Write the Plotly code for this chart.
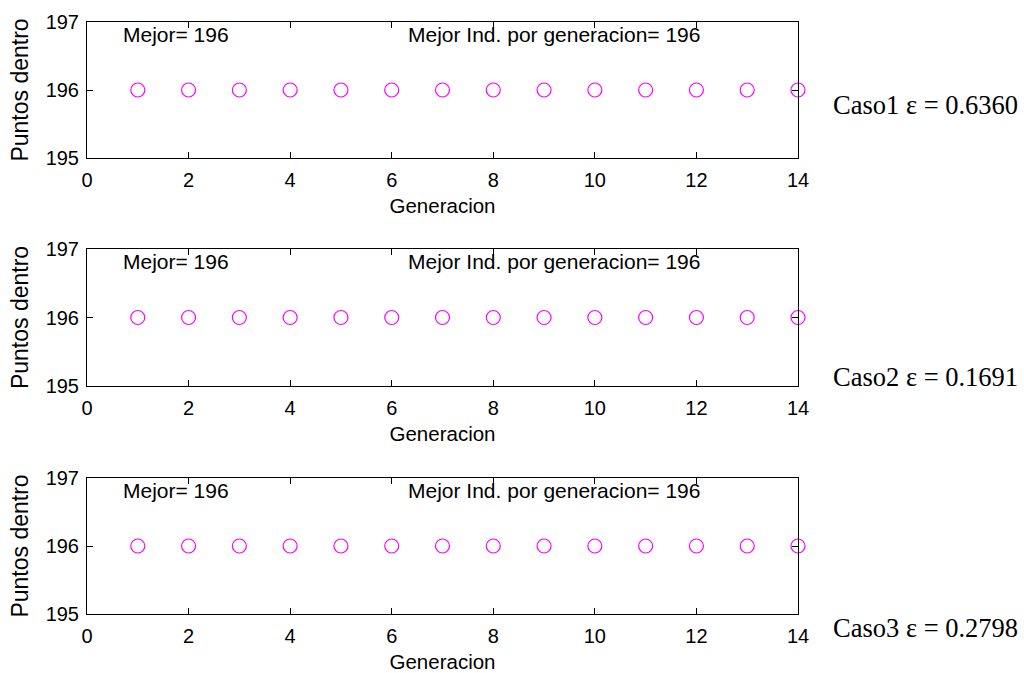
import plotly.graph_objects as go

generaciones = [1, 2, 3, 4, 5, 6, 7, 8, 9, 10, 11, 12, 13, 14]
caso1 = [196, 196, 196, 196, 196, 196, 196, 196, 196, 196, 196, 196, 196, 196]
caso2 = [196, 196, 196, 196, 196, 196, 196, 196, 196, 196, 196, 196, 196, 196]
caso3 = [196, 196, 196, 196, 196, 196, 196, 196, 196, 196, 196, 196, 196, 196]
casos = ["Caso1 ε = 0.6360", "Caso2 ε = 0.1691", "Caso3 ε = 0.2798"]
mejor = [196, 196, 196]
x_ticks = [0, 2, 4, 6, 8, 10, 12, 14]
y_ticks = [195, 196, 197]

W, H = 1024, 673
ml, mr, mt, mb = 87, 226, 22, 59
ph = H - mt - mb

def ypaper(px):
    return (H - mb - px) / ph

domains = [(158, 22), (386, 249), (614, 478)]
caso_y_px = [105, 377, 628]

fig = go.Figure()
font_tick = dict(family="Liberation Sans, Arial", size=20, color="black")
font_title = dict(family="Liberation Sans, Arial", size=20.5, color="black")
font_ann = dict(family="Liberation Sans, Arial", size=21, color="black")

for i, ys in enumerate([caso1, caso2, caso3]):
    n = "" if i == 0 else str(i + 1)
    fig.add_trace(go.Scatter(
        x=generaciones, y=ys, mode="markers",
        marker=dict(symbol="circle-open", size=14, color="#ff00ff",
                    line=dict(width=1.2, color="#ff00ff")),
        xaxis="x" + n, yaxis="y" + n, showlegend=False, cliponaxis=False))
    b, t = domains[i]
    axcommon = dict(showline=True, linecolor="black", linewidth=1, mirror="ticks",
                    ticks="inside", ticklen=6, tickcolor="black", showgrid=False,
                    zeroline=False, tickfont=font_tick, automargin=False)
    fig.layout["xaxis" + n] = dict(
        axcommon, domain=[0, 1], range=[0, 14], tickvals=x_ticks,
        anchor="y" + n, ticklabelstandoff=4,
        title=dict(text="Generacion", font=font_title, standoff=8))
    fig.layout["yaxis" + n] = dict(
        axcommon, domain=[ypaper(b), ypaper(t)], range=[195, 197], tickvals=y_ticks,
        anchor="x" + n, ticklabelstandoff=3,
        title=dict(text="Puntos dentro", font=dict(font_title, size=23), standoff=10))
    xr = "x" + n
    yr = "y" + n
    fig.add_annotation(x=0.66, y=196.82, xref=xr, yref=yr, text="Mejor= %d" % mejor[i],
                       showarrow=False, xanchor="left", yanchor="middle", font=font_ann)
    fig.add_annotation(x=6.28, y=196.82, xref=xr, yref=yr,
                       text="Mejor Ind. por generacion= %d" % ys[-1],
                       showarrow=False, xanchor="left", yanchor="middle", font=font_ann)
    fig.add_annotation(x=(831 - ml) / (W - ml - mr), y=ypaper(caso_y_px[i]),
                       xref="paper", yref="paper", text=casos[i], showarrow=False,
                       xanchor="left", yanchor="middle",
                       font=dict(family="Liberation Serif, Times New Roman", size=26.5,
                                 color="black"))

fig.update_layout(width=W, height=H, margin=dict(l=ml, r=mr, t=mt, b=mb),
                  plot_bgcolor="white", paper_bgcolor="white")
fig.write_html("out.html")
